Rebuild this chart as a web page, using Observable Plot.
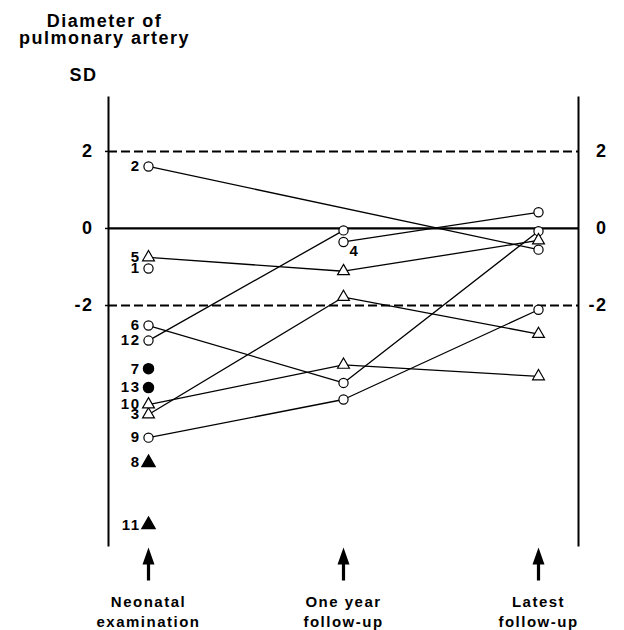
<!DOCTYPE html>
<html>
<head>
<meta charset="utf-8">
<script src="https://cdn.jsdelivr.net/npm/d3@7"></script>
<script src="https://cdn.jsdelivr.net/npm/@observablehq/plot@0.6"></script>
<style>
  html, body { margin: 0; padding: 0; background: #fff; }
  #chart svg { display: block; }
  #chart svg text { letter-spacing: 1.5px; }
</style>
</head>
<body>
<div id="chart"></div>
<script>
// Examination stages (x axis)
const stages = ["Neonatal\nexamination", "One year\nfollow-up", "Latest\nfollow-up"];

// Patients and their marker style
const patients = ["1", "2", "3", "4", "5", "6", "7", "8", "9", "10", "11", "12", "13"];
const markerShape = ["circle", "circle", "triangle", "circle", "triangle", "circle", "circle",
                     "triangle", "circle", "triangle", "triangle", "circle", "circle"];
const markerFilled = [false, false, false, false, false, false, true, true, false, false, true, false, true];

// Pulmonary artery diameter, SD score, at each stage (null = not examined)
const neonatalSD = [-1.04, 1.61, -4.83, null, -0.75, -2.52, -3.64, -6.08, -5.43, -4.57, -7.69, -2.91, -4.13];
const oneYearSD  = [null, null, -1.78, -0.35, -1.11, -4.01, null, null, -4.44, -3.54, null, -0.05, null];
const latestSD   = [null, -0.55, -2.74, 0.42, -0.31, -0.07, null, null, -2.11, -3.84, null, null, null];

// Axis ticks and the normal range limits
const yTicks = [2, 0, -2];
const normalLimits = [2, -2];
const meanLine = [0];

// Long-form rows for the library
const series = [neonatalSD, oneYearSD, latestSD];
const rows = [];
patients.forEach((id, i) => {
  series.forEach((values, s) => {
    if (values[i] != null) {
      rows.push({id, stage: stages[s], stageIndex: s, sd: values[i], shape: markerShape[i], filled: markerFilled[i]});
    }
  });
});
// Each patient is labelled at the first examination available
const labelRows = patients.map(id => rows.find(r => r.id === id));

// Solid arrowhead with shaft pointing up at each stage
const arrowSymbol = {
  draw(context) {
    context.moveTo(0, 2);
    context.lineTo(6, 19);
    context.lineTo(1.6, 19);
    context.lineTo(1.6, 35);
    context.lineTo(-1.6, 35);
    context.lineTo(-1.6, 19);
    context.lineTo(-6, 19);
    context.closePath();
  }
};

const font = "'Liberation Sans', Arial, Helvetica, sans-serif";
const dotsOf = (shape, filled) => rows.filter(d => d.shape === shape && d.filled === filled);

const chart = Plot.plot({
  width: 624,
  height: 630,
  marginTop: 97,
  marginBottom: 85,
  marginLeft: 108,
  marginRight: 46,
  style: {fontFamily: font, color: "black", background: "white", overflow: "visible"},
  x: {type: "point", domain: stages, padding: 0.2, axis: null},
  y: {domain: [-8.23, 3.40]},
  marks: [
    Plot.frame({anchor: "left", strokeWidth: 2}),
    Plot.frame({anchor: "right", strokeWidth: 2}),
    Plot.axisY({ticks: yTicks, anchor: "left", tickSize: 3, tickFormat: () => "", label: null, strokeWidth: 1.5}),
    Plot.text(yTicks, {y: d => d, frameAnchor: "left", dx: -15, textAnchor: "end", text: d => String(d),
      fontSize: 18, fontWeight: "bold"}),
    Plot.text(yTicks, {y: d => d, frameAnchor: "right", dx: 29, textAnchor: "end", text: d => String(d),
      fontSize: 18, fontWeight: "bold"}),
    Plot.ruleY(normalLimits, {strokeWidth: 2, strokeDasharray: "9,4"}),
    Plot.ruleY(meanLine, {strokeWidth: 2.2}),
    Plot.line(rows, {x: "stage", y: "sd", z: "id", stroke: "black", strokeWidth: 1.3}),
    Plot.dot(dotsOf("circle", false), {x: "stage", y: "sd", r: 4.6, fill: "white", stroke: "black", strokeWidth: 1.2}),
    Plot.dot(dotsOf("triangle", false), {x: "stage", y: "sd", symbol: "triangle", r: 4.4, fill: "white", stroke: "black", strokeWidth: 1.2}),
    Plot.dot(dotsOf("circle", true), {x: "stage", y: "sd", r: 5, fill: "black", stroke: "black"}),
    Plot.dot(dotsOf("triangle", true), {x: "stage", y: "sd", symbol: "triangle", r: 4.8, fill: "black", stroke: "black"}),
    Plot.text(labelRows.filter(d => d.stageIndex === 0), {x: "stage", y: "sd", text: "id", textAnchor: "end", dx: -8,
      fontSize: 15, fontWeight: "bold"}),
    Plot.text(labelRows.filter(d => d.stageIndex > 0), {x: "stage", y: "sd", text: "id", textAnchor: "start", dx: 6, dy: 9,
      fontSize: 15, fontWeight: "bold"}),
    Plot.dot(stages, {x: d => d, frameAnchor: "bottom", symbol: arrowSymbol, fill: "black", stroke: "none"}),
    Plot.text(stages, {x: d => d, frameAnchor: "bottom", dy: 81, text: d => d, lineAnchor: "bottom", lineHeight: 1.33,
      fontSize: 15, fontWeight: "bold"}),
    Plot.text(["Diameter of\npulmonary artery"], {frameAnchor: "top-left", dx: -4, dy: -54, text: d => d,
      textAnchor: "middle", lineAnchor: "bottom", lineHeight: 0.92, fontSize: 18, fontWeight: "bold"}),
    Plot.text(["SD"], {frameAnchor: "top-left", dx: -11, dy: -17, text: d => d, textAnchor: "end", lineAnchor: "bottom",
      fontSize: 18, fontWeight: "bold"})
  ]
});

document.getElementById("chart").appendChild(chart);
</script>
</body>
</html>
